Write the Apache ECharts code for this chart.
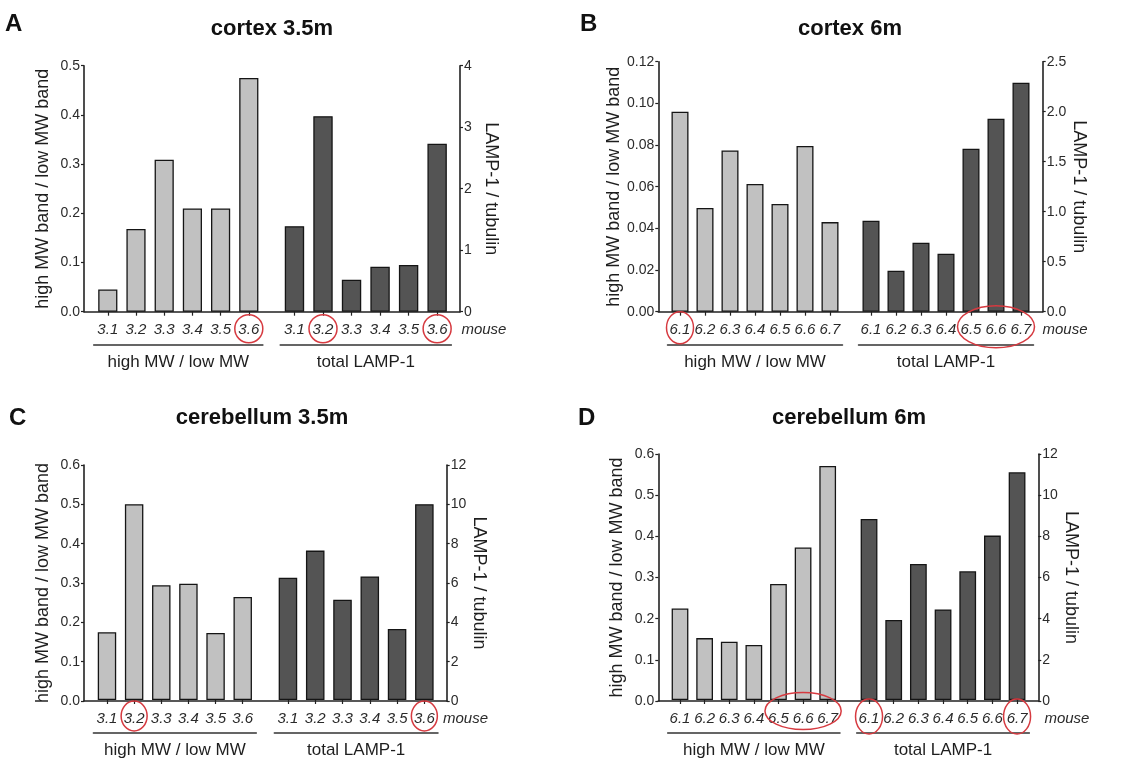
<!DOCTYPE html>
<html>
<head>
<meta charset="utf-8">
<script src="https://cdn.jsdelivr.net/npm/echarts@6/dist/echarts.min.js"></script>
<style>
  html, body { margin: 0; padding: 0; background: #ffffff; }
  #chart { width: 1141px; height: 760px; }
</style>
</head>
<body>
<div id="chart"></div>
<script>
// ---- mouse identifiers ----
const mice35 = ['3.1', '3.2', '3.3', '3.4', '3.5', '3.6'];
const mice6 = ['6.1', '6.2', '6.3', '6.4', '6.5', '6.6', '6.7'];

// ---- group captions and axis titles ----
const groupRatio = 'high MW / low MW';
const groupLamp = 'total LAMP-1';
const ratioAxisName = 'high MW band / low MW band';
const lampAxisName = 'LAMP-1 / tubulin';
const mouseLabel = 'mouse';

// ---- cortex, 3.5 months ----
const cortex35Ratio = [0.045, 0.168, 0.309, 0.210, 0.210, 0.475];
const cortex35Lamp = [1.39, 3.18, 0.52, 0.73, 0.76, 2.73];
// ---- cortex, 6 months ----
const cortex6Ratio = [0.096, 0.0498, 0.0774, 0.0613, 0.0517, 0.0795, 0.043];
const cortex6Lamp = [0.91, 0.41, 0.69, 0.58, 1.63, 1.93, 2.29];
// ---- cerebellum, 3.5 months ----
const cereb35Ratio = [0.173, 0.500, 0.293, 0.297, 0.171, 0.263];
const cereb35Lamp = [6.24, 7.63, 5.12, 6.31, 3.63, 10.0];
// ---- cerebellum, 6 months ----
const cereb6Ratio = [0.223, 0.151, 0.142, 0.134, 0.283, 0.372, 0.571];
const cereb6Lamp = [8.83, 3.90, 6.64, 4.42, 6.28, 8.02, 11.11];

// ---- tick labels ----
const cortex35RatioTicks = ['0.0', '0.1', '0.2', '0.3', '0.4', '0.5'];
const cortex35LampTicks = ['0', '1', '2', '3', '4'];
const cortex6RatioTicks = ['0.00', '0.02', '0.04', '0.06', '0.08', '0.10', '0.12'];
const cortex6LampTicks = ['0.0', '0.5', '1.0', '1.5', '2.0', '2.5'];
const cereb35RatioTicks = ['0.0', '0.1', '0.2', '0.3', '0.4', '0.5', '0.6'];
const cereb35LampTicks = ['0', '2', '4', '6', '8', '10', '12'];
const cereb6RatioTicks = ['0.0', '0.1', '0.2', '0.3', '0.4', '0.5', '0.6'];
const cereb6LampTicks = ['0', '2', '4', '6', '8', '10', '12'];

// ---- highlighted mice: [first, last] index ranges ringed in red ----
const cortex35RatioMarked = [[5, 5]];
const cortex35LampMarked = [[1, 1], [5, 5]];
const cortex6RatioMarked = [[0, 0]];
const cortex6LampMarked = [[4, 6]];
const cereb35RatioMarked = [[1, 1]];
const cereb35LampMarked = [[5, 5]];
const cereb6RatioMarked = [[4, 6]];
const cereb6LampMarked = [[0, 0], [6, 6]];

// ---- styling ----
const FONT = '"Liberation Sans", Arial, Helvetica, sans-serif';
const INK = '#1e1e1e';
const AXIS = '#222222';
const LIGHT = '#c1c1c1';
const DARK = '#545454';
const RING = '#d63a40';

const panels = [
  {
    letter: 'A', title: 'cortex 3.5m', titleX: 272, titleTop: 18, letterX: 5, letterTop: 12,
    cats: mice35, ratio: cortex35Ratio, lamp: cortex35Lamp,
    ratioTicks: cortex35RatioTicks, lampTicks: cortex35LampTicks,
    ratioMarked: cortex35RatioMarked, lampMarked: cortex35LampMarked,
    axisL: 84, axisR: 460, top: 65.7, zero: 311.7,
    gL: [93.7, 169.2], gR: [280.2, 171.2], mouseGap: 10,
    ring: { dy: 17, rx: 14, ry: 14, edy: 15, ery: 20 }
  },
  {
    letter: 'B', title: 'cortex 6m', titleX: 850, titleTop: 18, letterX: 580, letterTop: 12,
    cats: mice6, ratio: cortex6Ratio, lamp: cortex6Lamp,
    ratioTicks: cortex6RatioTicks, lampTicks: cortex6LampTicks,
    ratioMarked: cortex6RatioMarked, lampMarked: cortex6LampMarked,
    axisL: 658.3, axisR: 1042.7, top: 61.7, zero: 311.7,
    gL: [667.5, 175], gR: [858.5, 175], mouseGap: 9,
    ring: { dy: 16, rx: 13.5, ry: 16, edy: 15, ery: 21 }
  },
  {
    letter: 'C', title: 'cerebellum 3.5m', titleX: 262, titleTop: 407, letterX: 9, letterTop: 406,
    cats: mice35, ratio: cereb35Ratio, lamp: cereb35Lamp,
    ratioTicks: cereb35RatioTicks, lampTicks: cereb35LampTicks,
    ratioMarked: cereb35RatioMarked, lampMarked: cereb35LampMarked,
    axisL: 84, axisR: 446.7, top: 465, zero: 701,
    gL: [93.4, 162.9], gR: [274.3, 163.7], mouseGap: 5,
    ring: { dy: 16, rx: 13, ry: 15, edy: 12, ery: 19 }
  },
  {
    letter: 'D', title: 'cerebellum 6m', titleX: 849, titleTop: 407, letterX: 578, letterTop: 406,
    cats: mice6, ratio: cereb6Ratio, lamp: cereb6Lamp,
    ratioTicks: cereb6RatioTicks, lampTicks: cereb6LampTicks,
    ratioMarked: cereb6RatioMarked, lampMarked: cereb6LampMarked,
    axisL: 658.3, axisR: 1038.3, top: 454, zero: 701,
    gL: [667.7, 172.3], gR: [856.7, 172.7], mouseGap: 15,
    ring: { dy: 16.5, rx: 13.5, ry: 17.5, edy: 11, ery: 18.5 }
  }
];

const option = {
  animation: false,
  backgroundColor: '#ffffff',
  textStyle: { fontFamily: FONT },
  title: [], grid: [], xAxis: [], yAxis: [], series: []
};

function scaleOf(ticks) {
  const nums = ticks.map(Number);
  return { min: nums[0], max: nums[nums.length - 1], interval: nums[1] - nums[0] };
}

function tickFormatter(ticks) {
  const s = scaleOf(ticks);
  return function (v) {
    const i = Math.round((v - s.min) / s.interval);
    return ticks[i] !== undefined ? ticks[i] : '';
  };
}

function shownValueAxis(ticks, position, gridIndex, name, nameGap, nameRotate) {
  const s = scaleOf(ticks);
  return {
    gridIndex, type: 'value', position, min: s.min, max: s.max, interval: s.interval,
    name, nameLocation: 'middle', nameGap, nameRotate,
    nameTextStyle: { fontSize: 18, color: INK, fontFamily: FONT },
    axisLine: { show: true, onZero: false, lineStyle: { color: AXIS, width: 1.6 } },
    axisTick: { show: true, inside: false, length: 3, lineStyle: { color: AXIS, width: 1.2 } },
    axisLabel: { show: true, margin: 4, fontSize: 14, color: '#2b2b2b', fontFamily: FONT, formatter: tickFormatter(ticks) },
    splitLine: { show: false }
  };
}

function hiddenValueAxis(ticks, gridIndex) {
  const s = scaleOf(ticks);
  return { gridIndex, type: 'value', min: s.min, max: s.max, interval: s.interval, show: false };
}

function ringSeries(marked, xAxisIndex, yAxisIndex, ring) {
  return {
    type: 'custom', xAxisIndex, yAxisIndex, data: marked, silent: true, clip: false, z: 20,
    renderItem: function (params, api) {
      const first = api.value(0), last = api.value(1);
      const a = api.coord([first, 0]);
      const b = api.coord([last, 0]);
      const single = first === last;
      return {
        type: 'ellipse',
        shape: {
          cx: (a[0] + b[0]) / 2,
          cy: a[1] + (single ? ring.dy : ring.edy),
          rx: (b[0] - a[0]) / 2 + ring.rx,
          ry: single ? ring.ry : ring.ery
        },
        style: { fill: 'none', stroke: RING, lineWidth: 1.5 }
      };
    }
  };
}

function groupAxes(p, gridIndex, caption, withMouse) {
  const cat = {
    gridIndex, type: 'category', data: p.cats, position: 'bottom',
    axisLine: { show: false },
    axisTick: { show: true, alignWithLabel: true, interval: 0, length: 4, lineStyle: { color: AXIS, width: 1.2 } },
    axisLabel: { interval: 0, hideOverlap: false, margin: 11, fontSize: 15, fontStyle: 'italic', color: '#2a2a2a', fontFamily: FONT },
    splitLine: { show: false }
  };
  if (withMouse) {
    cat.name = mouseLabel;
    cat.nameLocation = 'end';
    cat.nameGap = p.mouseGap;
    cat.nameTextStyle = { fontSize: 15, fontStyle: 'italic', color: '#2a2a2a', fontFamily: FONT,
      align: 'left', verticalAlign: 'top', padding: [11, 0, 0, 0] };
  }
  const underline = {
    gridIndex, type: 'category', data: p.cats, position: 'bottom', offset: 33,
    axisLine: { show: true, onZero: false, lineStyle: { color: '#333', width: 1.5 } },
    axisTick: { show: false }, axisLabel: { show: false }, splitLine: { show: false },
    name: caption, nameLocation: 'middle', nameGap: 9,
    nameTextStyle: { fontSize: 17, color: INK, fontFamily: FONT }
  };
  return [cat, underline];
}

panels.forEach(function (p) {
  option.title.push({
    text: p.title, left: p.titleX, top: p.titleTop, textAlign: 'center', padding: 0,
    textStyle: { fontSize: 22, fontWeight: 'bold', color: '#111', fontFamily: FONT }
  });
  option.title.push({
    text: p.letter, left: p.letterX, top: p.letterTop, padding: 0,
    textStyle: { fontSize: 24, fontWeight: 'bold', color: '#111', fontFamily: FONT }
  });

  const height = p.zero - p.top;

  // frame: full-width baseline plus both value axes
  const gF = option.grid.length;
  option.grid.push({ left: p.axisL, top: p.top, width: p.axisR - p.axisL, height });
  option.xAxis.push({
    gridIndex: gF, type: 'value', min: 0, max: 1,
    axisLine: { show: true, onZero: false, lineStyle: { color: AXIS, width: 1.6 } },
    axisTick: { show: false }, axisLabel: { show: false }, splitLine: { show: false }
  });
  option.yAxis.push(shownValueAxis(p.ratioTicks, 'left', gF, ratioAxisName, 32, 90));
  option.yAxis.push(shownValueAxis(p.lampTicks, 'right', gF, lampAxisName, 22, -90));

  // left group: high MW / low MW ratio
  const gL = option.grid.length;
  option.grid.push({ left: p.gL[0], top: p.top, width: p.gL[1], height });
  const xL = option.xAxis.length;
  option.xAxis.push.apply(option.xAxis, groupAxes(p, gL, groupRatio, false));
  const yL = option.yAxis.length;
  option.yAxis.push(hiddenValueAxis(p.ratioTicks, gL));
  option.series.push({
    type: 'bar', xAxisIndex: xL, yAxisIndex: yL, data: p.ratio, barWidth: '68%',
    itemStyle: { color: LIGHT, borderColor: '#151515', borderWidth: 1.3 }, silent: true
  });
  option.series.push(ringSeries(p.ratioMarked, xL, yL, p.ring));

  // right group: total LAMP-1
  const gR = option.grid.length;
  option.grid.push({ left: p.gR[0], top: p.top, width: p.gR[1], height });
  const xR = option.xAxis.length;
  option.xAxis.push.apply(option.xAxis, groupAxes(p, gR, groupLamp, true));
  const yR = option.yAxis.length;
  option.yAxis.push(hiddenValueAxis(p.lampTicks, gR));
  option.series.push({
    type: 'bar', xAxisIndex: xR, yAxisIndex: yR, data: p.lamp, barWidth: '68%',
    itemStyle: { color: DARK, borderColor: '#151515', borderWidth: 1.3 }, silent: true
  });
  option.series.push(ringSeries(p.lampMarked, xR, yR, p.ring));
});

const chart = echarts.init(document.getElementById('chart'), null, { renderer: 'canvas' });
chart.setOption(option);
</script>
</body>
</html>
